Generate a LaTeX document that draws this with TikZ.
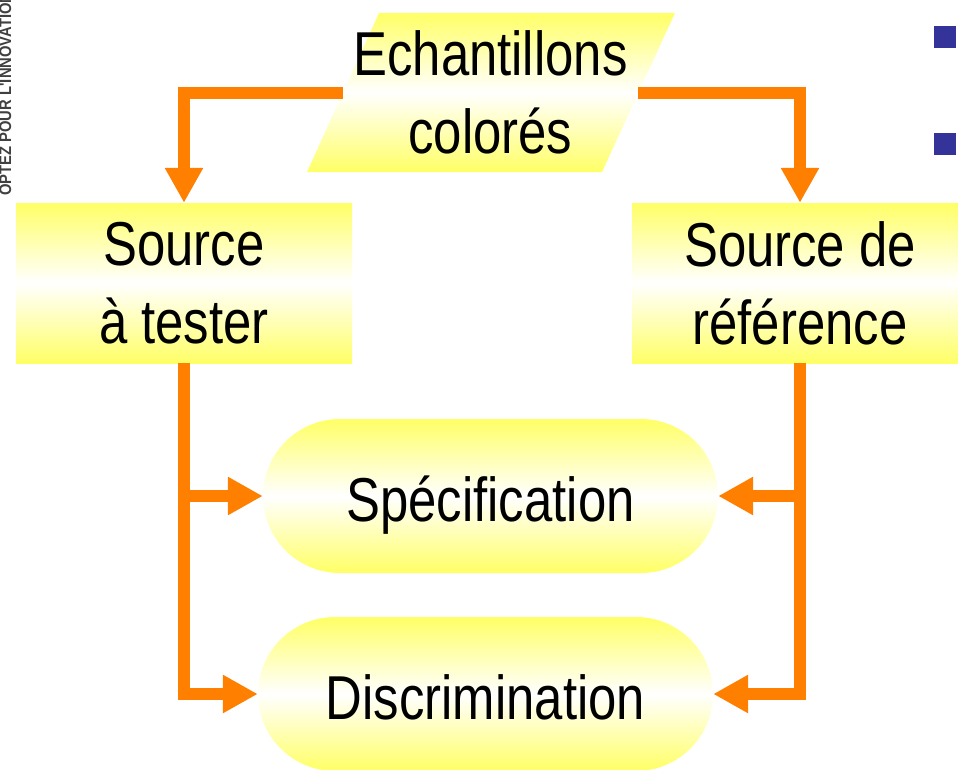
\documentclass[tikz,border=0pt]{standalone}
\usepackage{fontspec}
\setmainfont[FakeStretch=0.82]{Liberation Sans}
\newfontfamily\sidefont[FakeStretch=0.88]{Liberation Sans}
\usetikzlibrary{arrows.meta}
\definecolor{boxyellow}{HTML}{FFFF66}
\definecolor{arroworange}{HTML}{FF8000}
\definecolor{bulletblue}{HTML}{333399}
\begin{document}
\begin{tikzpicture}[x=1pt,y=-1pt,
  shadebox/.style={top color=boxyellow, bottom color=boxyellow, middle color=white},
  txt/.style={font=\fontsize{62}{78}\selectfont, align=center, inner sep=0pt},
  srcbox/.style={shadebox, txt, rectangle, minimum width=336pt, minimum height=160pt},
  pill/.style={shadebox, txt, rectangle, rounded corners=77pt, minimum width=455pt, minimum height=154pt, text height=50pt, text depth=0pt},
  conn/.style={draw=arroworange, line width=12pt, line join=miter, -{Triangle[length=35pt,width=36pt]}},
  bullet/.style={fill=bulletblue, draw=none, minimum size=22pt, inner sep=0pt, rectangle},
  sidetext/.style={rotate=90, anchor=base west, inner sep=0pt, text=black!75, font=\sidefont\bfseries\fontsize{16.8}{20}\selectfont},
]
\useasboundingbox (0,0) rectangle (958,769);
\clip (0,0) rectangle (958,769);

% side text
\node[sidetext] (side) at (11,196) {OPTEZ POUR L'INNOVATION};

% bullets
\node[bullet] (b1) at (945,37) {};
\node[bullet] (b2) at (945,144) {};

% parallelogram
\shade[shadebox] (379,13) -- (675,13) -- (602,172) -- (307,172) -- cycle;
\node[txt, minimum width=295pt, minimum height=159pt] (ech) at (490.5,92.5) {Echantillons\\colorés};

% boxes
\node[srcbox] (src) at (184,283) {Source\\à tester};
\node[srcbox] (ref) at (800,283) {Source de\\référence};

% pills
\node[pill] (spec) at (490.5,496) {Spécification};
\node[pill] (disc) at (485.5,694) {Discrimination};

% connectors
\draw[conn] (ech.west) -| (src.north);
\draw[conn] (ech.east) -| (ref.north);
\draw[conn] (src.south) |- (disc.west);
\draw[conn] (src.south |- spec.west) -- (spec.west);
\draw[conn] (ref.south) |- (disc.east);
\draw[conn] (ref.south |- spec.east) -- (spec.east);
\end{tikzpicture}
\end{document}
